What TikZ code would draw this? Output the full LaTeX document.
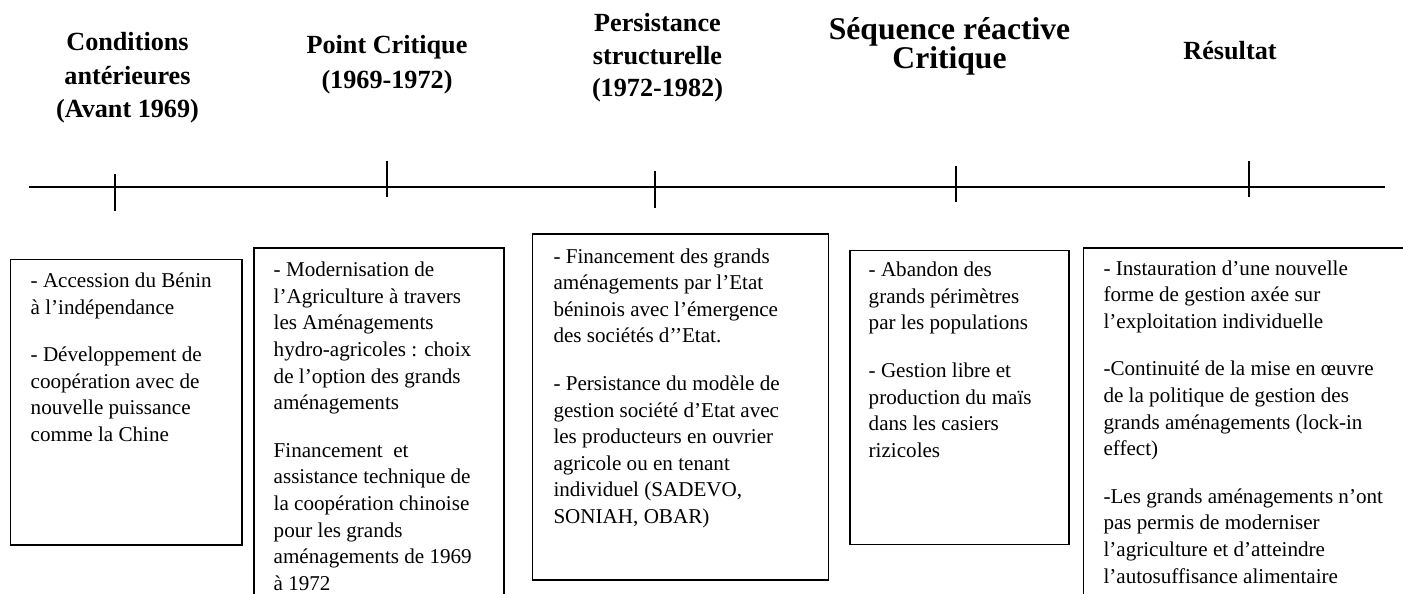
\documentclass[tikz,border=0pt]{standalone}
\usepackage{fontspec}
\setmainfont{Liberation Serif}
\begin{document}
\begin{tikzpicture}[x=1pt,y=-1pt,
  rule/.style={line width=1.8pt, black},
  box/.style={draw, line width=1.7pt, inner sep=0pt, anchor=north west},
  body/.style={anchor=base west, inner sep=0pt, font=\fontsize{21.1}{26.6}\selectfont},
  head/.style={anchor=base, inner sep=0pt, font=\bfseries\fontsize{26.2}{33.5}\selectfont}]
\useasboundingbox (0,0) rectangle (1403,594);
\clip (0,0) rectangle (1403,594);

% headings
\node[head] (h1) at (127.5,51) {\parbox[t]{300pt}{\centering Conditions\\ antérieures\\ (Avant 1969)}};
\node[head, font=\bfseries\fontsize{26.2}{34.8}\selectfont] (h2) at (387,53.3) {\parbox[t]{300pt}{\centering Point Critique\\ (1969-1972)}};
\node[head, font=\bfseries\fontsize{26.2}{32.5}\selectfont] (h3) at (657.5,31.7) {\parbox[t]{300pt}{\centering Persistance\\ structurelle\\ (1972-1982)}};
\node[head, font=\bfseries\fontsize{31.6}{26.8}\selectfont] (h4) at (949.5,39.3) {\parbox[t]{300pt}{\centering Séquence réactive\\ Critique}};
\node[head] (h5) at (1230,59.3) {\parbox[t]{300pt}{\centering Résultat}};

% timeline
\coordinate (L) at (29.3,187.3);
\coordinate (R) at (1385,187.3);
\draw[rule] (L) -- (R);
\coordinate (k1a) at (115,174);    \coordinate (k1b) at (115,211);
\coordinate (k2a) at (387.3,161);  \coordinate (k2b) at (387.3,197);
\coordinate (k3a) at (655,171);    \coordinate (k3b) at (655,208);
\coordinate (k4a) at (956,166);    \coordinate (k4b) at (956,202);
\coordinate (k5a) at (1249.3,161); \coordinate (k5b) at (1249.3,197);
\draw[rule] (k1a) -- (k1b);
\draw[rule] (k2a) -- (k2b);
\draw[rule] (k3a) -- (k3b);
\draw[rule] (k4a) -- (k4b);
\draw[rule] (k5a) -- (k5b);

% boxes
\node[box, minimum width=231.4pt, minimum height=285.5pt] (b1) at (9.6,258.5) {};
\node[box, minimum width=250.1pt, minimum height=400pt] (b2) at (253.3,247.3) {};
\node[box, minimum width=296pt, minimum height=346pt] (b3) at (531.7,233.3) {};
\node[box, minimum width=219pt, minimum height=294pt] (b4) at (849.3,249.5) {};
\node[box, minimum width=400pt, minimum height=400pt] (b5) at (1082.5,247) {};

% texts
\node[body] (t1) at (30.5,287.5) {\parbox[t]{400pt}{\raggedright
- Accession du Bénin\\ à l’indépendance\\[21pt]
- Développement de\\ coopération avec de\\ nouvelle puissance\\ comme la Chine}};
\node[body] (t2) at (273.5,276.7) {\parbox[t]{400pt}{\raggedright
- Modernisation de\\ l’Agriculture à travers\\ les Aménagements\\ hydro-agricoles : choix\\ de l’option des grands\\ aménagements\\[21pt]
Financement~ et\\ assistance technique de\\ la coopération chinoise\\ pour les grands\\ aménagements de 1969\\ à 1972}};
\node[body] (t3) at (553.3,263) {\parbox[t]{400pt}{\raggedright
- Financement des grands\\ aménagements par l’Etat\\ béninois avec l’émergence\\ des sociétés d’’Etat.\\[21pt]
- Persistance du modèle de\\ gestion société d’Etat avec\\ les producteurs en ouvrier\\ agricole ou en tenant\\ individuel (SADEVO,\\ SONIAH, OBAR)}};
\node[body] (t4) at (868.5,276.7) {\parbox[t]{400pt}{\raggedright
- Abandon des\\ grands périmètres\\ par les populations\\[21pt]
- Gestion libre et\\ production du maïs\\ dans les casiers\\ rizicoles}};
\node[body] (t5) at (1103.3,275) {\parbox[t]{400pt}{\raggedright
- Instauration d’une nouvelle\\ forme de gestion axée sur\\ l’exploitation individuelle\\[21pt]
-Continuité de la mise en œuvre\\ de la politique de gestion des\\ grands aménagements (lock-in\\ effect)\\[21pt]
-Les grands aménagements n’ont\\ pas permis de moderniser\\ l’agriculture et d’atteindre\\ l’autosuffisance alimentaire}};
\end{tikzpicture}
\end{document}
